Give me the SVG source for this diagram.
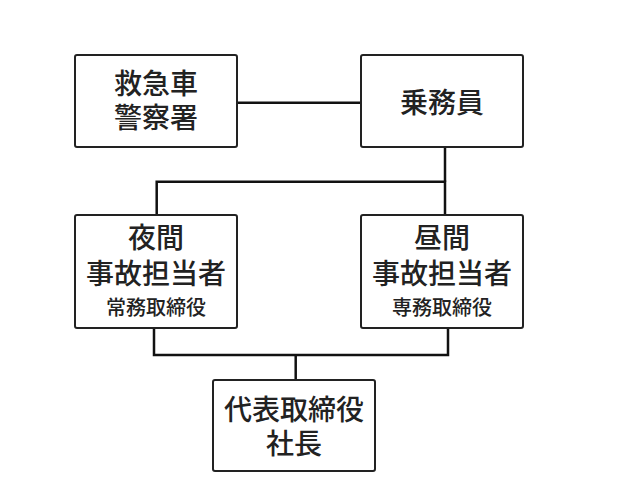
<svg xmlns="http://www.w3.org/2000/svg" width="618" height="500" viewBox="0 0 618 500">
<style>
.box{fill:#fff;stroke:#222;stroke-width:2}
.l{font-family:"Noto Sans CJK JP","Noto Sans",sans-serif;font-size:28px;font-weight:500;fill:#222;text-anchor:middle}
.s{font-family:"Noto Sans CJK JP","Noto Sans",sans-serif;font-size:20px;font-weight:500;fill:#222;text-anchor:middle}
.c{fill:none;stroke:#111;stroke-width:2.5}
</style>
<rect width="618" height="500" fill="#fff"/>
<g id="connectors">
<line class="c" x1="237" y1="102.7" x2="361" y2="102.7"/>
<polyline class="c" points="445,147 445,181.7"/>
<polyline class="c" points="156.7,215 156.7,181.7 445,181.7 445,215"/>
<polyline class="c" points="154,328 154,355 448,355 448,328"/>
<line class="c" x1="295.7" y1="355" x2="295.7" y2="380"/>
</g>
<g id="n1">
<rect class="box" x="75" y="55" width="162" height="92" rx="2"/>
<text class="l" x="156" y="93.5">救急車</text>
<text class="l" x="156" y="127.5">警察署</text>
</g>
<g id="n2">
<rect class="box" x="361" y="55" width="162" height="92" rx="2"/>
<text class="l" x="442" y="113">乗務員</text>
</g>
<g id="n3">
<rect class="box" x="75" y="215" width="162" height="113" rx="2"/>
<text class="l" x="156" y="248">夜間</text>
<text class="l" x="156" y="284">事故担当者</text>
<text class="s" x="156" y="314.5">常務取締役</text>
</g>
<g id="n4">
<rect class="box" x="361" y="215" width="162" height="113" rx="2"/>
<text class="l" x="442" y="248">昼間</text>
<text class="l" x="442" y="284">事故担当者</text>
<text class="s" x="442" y="314.5">専務取締役</text>
</g>
<g id="n5">
<rect class="box" x="213" y="380" width="162" height="91" rx="2"/>
<text class="l" x="294" y="420">代表取締役</text>
<text class="l" x="294" y="453.5">社長</text>
</g>
</svg>
